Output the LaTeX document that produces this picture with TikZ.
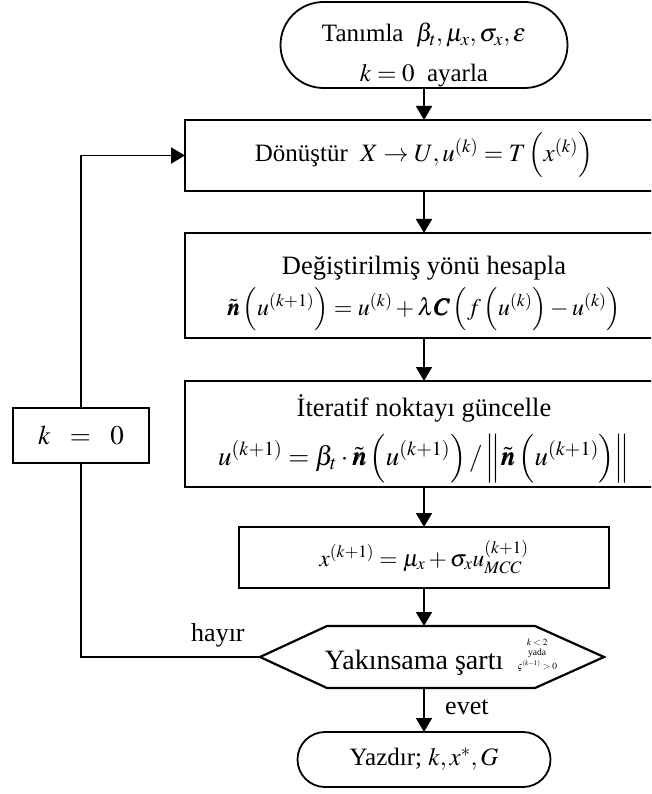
\documentclass[tikz,border=0pt]{standalone}
\usepackage{amsmath}
\usepackage{mathptmx}
\usepackage{bm}
\usepackage{fontspec}
\setmainfont{Liberation Serif}
\usetikzlibrary{shapes.misc, arrows.meta, positioning}

\begin{document}
\begin{tikzpicture}[
    x=1pt, y=-1pt,
    block/.style={rectangle, draw, line width=2.6pt, align=center, inner sep=2pt, outer sep=0pt},
    term/.style={rounded rectangle, draw, line width=1.8pt, align=center, inner sep=0pt, outer sep=0pt},
    arrow/.style={-{Triangle[length=14pt, width=16pt]}, line width=1.8pt},
    line/.style={line width=1.8pt},
    tag/.style={font=\fontsize{26}{28}\selectfont}
]
\useasboundingbox (0,0) rectangle (651,794);
\clip (0,0) rectangle (651,794);

% Start
\node[term, minimum width=287pt, minimum height=86pt, font=\fontsize{25}{40}\selectfont] (start) at (424,45)
    {\rule{0pt}{39pt}Tanımla~ $\beta_t,\mu_x,\sigma_x,\varepsilon$\\ $k=0$~ ayarla};

% Transform
\node[block, minimum width=478pt, minimum height=71pt, below=32pt of start,
    font=\fontsize{25}{28}\selectfont] (dnst)
    {Dönüştür~ $X\rightarrow U, u^{(k)} = T\left(x^{(k)}\right)$};

% Modified direction
\node[block, minimum width=478pt, minimum height=105pt, below=42pt of dnst,
    font=\fontsize{26.5}{32}\selectfont] (degis)
    {\rule{0pt}{34pt}Değiştirilmiş yönü hesapla\\[7pt]
     {\fontsize{24}{28}\selectfont $\tilde{\bm{n}}\left(u^{(k+1)}\right) = u^{(k)} + \lambda\bm{C}\left(f\left(u^{(k)}\right) - u^{(k)}\right)$}};

% Update point
\node[block, minimum width=478pt, minimum height=106pt, below=43pt of degis,
    font=\fontsize{26.5}{30}\selectfont] (iter)
    {\rule{0pt}{31pt}İteratif noktayı güncelle\\[11pt]
     {\fontsize{27}{32}\selectfont $u^{(k+1)} = \beta_t\cdot\tilde{\bm{n}}\left(u^{(k+1)}\right)/\left\|\tilde{\bm{n}}\left(u^{(k+1)}\right)\right\|$}};

% x update
\node[block, minimum width=370pt, minimum height=61pt, below=40pt of iter,
    font=\fontsize{23.5}{26}\selectfont] (xupd)
    {$x^{(k+1)} = \mu_x + \sigma_x u^{(k+1)}_{MCC}$};

% Convergence check
\node[minimum width=344pt, minimum height=62pt, outer sep=0pt, below=38pt of xupd, xshift=8pt,
    font=\fontsize{28}{30}\selectfont] (hex)
    {\hspace*{18pt}Yakınsama şartı\hspace{14pt}{\fontsize{9.5}{9}\selectfont\shortstack{$k<2$\\yada\\$\varsigma^{(k-1)}>0$}}};
\draw[line width=2.2pt] (hex.west) -- ([xshift=67pt]hex.north west) -- ([xshift=-69pt]hex.north east)
    -- (hex.east) -- ([xshift=-69pt]hex.south east) -- ([xshift=67pt]hex.south west) -- cycle;

% Output
\node[term, minimum width=253pt, minimum height=55pt, below=44pt of hex, xshift=-8pt,
    font=\fontsize{25}{28}\selectfont] (stop)
    {Yazdır; $k, x^{*}, G$};

% Reset
\node[block, minimum width=136pt, minimum height=55pt, font=\fontsize{27}{30}\selectfont] (kzero) at (81,435.5)
    {$k\ \ =\ \ 0$};

% Arrows
\draw[arrow] (start) -- (start |- dnst.north);
\draw[arrow] (dnst.south -| start) -- (degis.north -| start);
\draw[arrow] (degis.south -| start) -- (iter.north -| start);
\draw[arrow] (iter.south -| start) -- (xupd.north);
\draw[arrow] (xupd) -- (xupd |- hex.north);
\draw[arrow] (hex.south -| stop) -- node[tag, right=17pt, yshift=3pt] {evet} (stop);
\draw[line] (hex.west) -- node[tag, pos=0.235, above=6pt] {hayır} (hex.west -| kzero) -- (kzero.south);
\draw[arrow] (kzero.north) |- (dnst.west);

\end{tikzpicture}
\end{document}
